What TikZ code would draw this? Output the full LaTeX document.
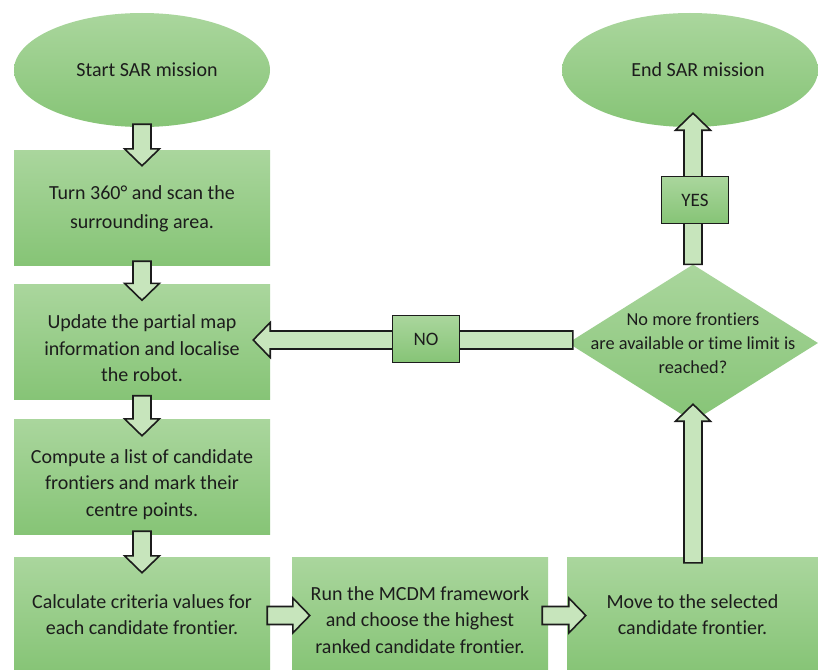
\documentclass[tikz,border=0pt]{standalone}
\usepackage{fontspec}
\setmainfont{Carlito}[Ligatures={NoCommon}]
\usetikzlibrary{calc,shapes.geometric}
\definecolor{gtop}{RGB}{170,214,157}
\definecolor{gbot}{RGB}{134,196,118}
\definecolor{afill}{RGB}{199,229,188}
\definecolor{ink}{RGB}{28,28,28}
\tikzset{
  stepbox/.style={rectangle, top color=gtop, bottom color=gbot, draw=none,
    minimum width=256pt, minimum height=115pt, inner sep=0pt, align=center,
    text=ink, font=\fontsize{20}{26.5}\selectfont},
  terminal/.style={ellipse, top color=gtop, bottom color=gbot, draw=none,
    minimum width=256pt, minimum height=114pt, inner sep=0pt, text=ink,
    font=\fontsize{20}{26.5}\selectfont},
  decision/.style={diamond, top color=gtop, bottom color=gbot, draw=none,
    minimum width=250pt, minimum height=157pt, inner sep=0pt},
  dectext/.style={align=center, text=ink, inner sep=0pt,
    font=\fontsize{18.3}{24}\selectfont},
  tagbox/.style={rectangle, top color=gtop, bottom color=gbot, draw=ink,
    line width=1.5pt, minimum width=67pt, minimum height=47pt, inner sep=0pt,
    text=ink, font=\fontsize{19}{24}\selectfont},
  barrow/.style={draw=ink, fill=afill, line width=1.6pt, line join=miter},
}
\newcommand\blockarrow[2]{%
  \coordinate (bahb) at ($(#2)!17pt!(#1)$);
  \draw[barrow] ($(#1)!9pt!90:(#2)$) -- ($(bahb)!9pt!90:(#2)$)
    -- ($(bahb)!17.5pt!90:(#2)$) -- (#2) -- ($(bahb)!17.5pt!-90:(#2)$)
    -- ($(bahb)!9pt!-90:(#2)$) -- ($(#1)!9pt!-90:(#2)$) -- cycle;}
\begin{document}
\begin{tikzpicture}[x=1pt,y=-1pt]
\useasboundingbox[fill=white] (0,0) rectangle (818,669);
% shapes
\node[terminal] (start) at (142,70) {\hspace*{10pt}Start SAR mission};
\node[terminal] (end) at (690,70) {\hspace*{16pt}End SAR mission};
\node[stepbox, font=\fontsize{20}{29}\selectfont, text height=45pt] (b1) at (142,207.5) {Turn 360° and scan the\\surrounding area.};
\node[stepbox, text height=80pt] (b2) at (142,342) {Update the partial map\\information and localise\\the robot.};
\node[stepbox, text height=83pt] (b3) at (142,476.5) {Compute a list of candidate\\frontiers and mark their\\centre points.};
\node[stepbox] (b4) at (142,614.5) {Calculate criteria values for\\each candidate frontier.};
\node[stepbox, text height=78pt] (b5) at (420,614.5) {Run the MCDM framework\\and choose the highest\\ranked candidate frontier.};
\node[stepbox, minimum width=251pt] (b6) at (692.5,614.5) {Move to the selected\\candidate frontier.};
\node[decision] (dec) at (693,343) {};
\node[dectext] (dectxt) at (dec.center) {No more frontiers\\are available or time limit is\\reached?};
% arrow end points
\coordinate (a0s) at ($(start.south)+(0,-3)$);
\coordinate (a0t) at ($(b1.north)+(0,16)$);
\coordinate (a1s) at ($(b1.south)+(0,-4)$);
\coordinate (a1t) at ($(b2.north)+(0,16)$);
\coordinate (a2s) at ($(b2.south)+(0,-4)$);
\coordinate (a2t) at ($(b3.north)+(0,17)$);
\coordinate (a3s) at ($(b3.south)+(0,-3)$);
\coordinate (a3t) at ($(b4.north)+(0,16)$);
\coordinate (a4s) at ($(b4.east)+(-3,1)$);
\coordinate (a4t) at ($(b5.west)+(18,1)$);
\coordinate (a5s) at ($(b5.east)+(-6,1)$);
\coordinate (a5t) at ($(b6.west)+(19,1)$);
\coordinate (a6s) at ($(dec.south |- b6.north)+(0,6)$);
\coordinate (a6t) at ($(dec.south)+(0,-17.5)$);
\coordinate (ayS) at (dec.north);
\coordinate (ayT) at ($(dec.north |- end.south)+(0,-14)$);
\coordinate (anT) at ($(b2.east)+(-17,-2)$);
\coordinate (anS) at ($(anT -| dec.west)+(5,0)$);
% block arrows
\blockarrow{a0s}{a0t}
\blockarrow{a1s}{a1t}
\blockarrow{a2s}{a2t}
\blockarrow{a3s}{a3t}
\blockarrow{a4s}{a4t}
\blockarrow{a5s}{a5t}
\blockarrow{a6s}{a6t}
\blockarrow{ayS}{ayT}
\blockarrow{anS}{anT}
% labels on arrows
\node[tagbox] (yes) at (695,200) {YES};
\node[tagbox] (no) at (426,339) {NO};
\end{tikzpicture}
\end{document}
